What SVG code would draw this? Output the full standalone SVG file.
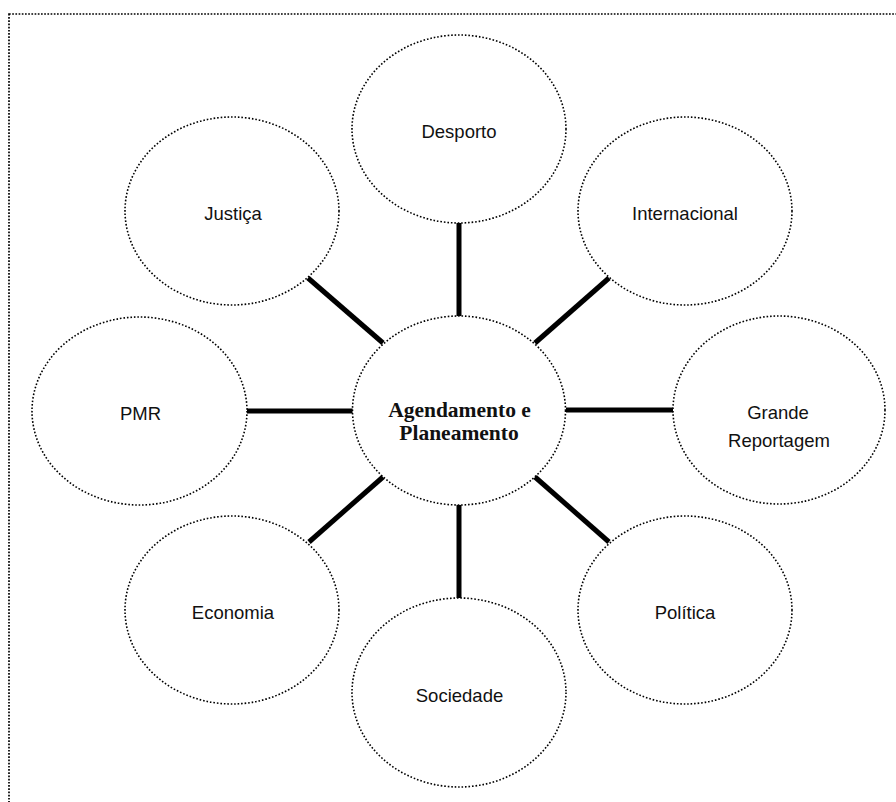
<svg xmlns="http://www.w3.org/2000/svg" width="896" height="802" viewBox="0 0 896 802">
<style>
.bg{fill:#fff}
.frame{fill:none;stroke:#000;stroke-width:1.7;stroke-dasharray:1.7 1.5}
.node{fill:#fff;stroke:#000;stroke-width:1.6;stroke-dasharray:1.6 1.9}
.lbl{font-family:"Liberation Sans",Arial,sans-serif;font-size:18.5px;fill:#111;text-anchor:middle}
.main{font-family:"Liberation Serif","Times New Roman",serif;font-size:21.5px;font-weight:bold;fill:#111;text-anchor:middle}
.conn line{stroke:#000;stroke-width:5}
</style>
<rect class="bg" x="0" y="0" width="896" height="802"/>
<rect class="frame" x="9" y="14" width="900" height="800"/>
<g id="connectors" class="conn">
<line x1="459" y1="223" x2="459" y2="317"/>
<line x1="459" y1="504" x2="459" y2="598"/>
<line x1="247" y1="411" x2="353" y2="411"/>
<line x1="566" y1="410" x2="673" y2="410"/>
<line x1="308" y1="278" x2="383" y2="343"/>
<line x1="609" y1="278" x2="535" y2="343"/>
<line x1="309" y1="542" x2="383" y2="477"/>
<line x1="609" y1="542" x2="535" y2="477"/>
</g>
<g id="center">
<ellipse class="node" cx="459" cy="410.5" rx="106.5" ry="94.5"/>
<text class="main" x="459.5" y="417">Agendamento e</text>
<text class="main" x="459" y="440">Planeamento</text>
</g>
<g id="desporto">
<ellipse class="node" cx="459" cy="129" rx="107" ry="94"/>
<text class="lbl" x="459" y="138">Desporto</text>
</g>
<g id="justica">
<ellipse class="node" cx="232" cy="211" rx="107" ry="94"/>
<text class="lbl" x="233" y="220">Justiça</text>
</g>
<g id="internacional">
<ellipse class="node" cx="685" cy="211" rx="107" ry="94"/>
<text class="lbl" x="685" y="220">Internacional</text>
</g>
<g id="pmr">
<ellipse class="node" cx="139.5" cy="411" rx="107.5" ry="94"/>
<text class="lbl" x="140.5" y="420">PMR</text>
</g>
<g id="grande-reportagem">
<ellipse class="node" cx="779" cy="410" rx="106" ry="94"/>
<text class="lbl" x="778" y="419">Grande</text>
<text class="lbl" x="779" y="447">Reportagem</text>
</g>
<g id="economia">
<ellipse class="node" cx="232" cy="610" rx="107" ry="94"/>
<text class="lbl" x="233" y="619">Economia</text>
</g>
<g id="sociedade">
<ellipse class="node" cx="459" cy="692.5" rx="107" ry="94.5"/>
<text class="lbl" x="459.5" y="702">Sociedade</text>
</g>
<g id="politica">
<ellipse class="node" cx="685" cy="610" rx="107" ry="94"/>
<text class="lbl" x="685" y="619">Política</text>
</g>
</svg>
